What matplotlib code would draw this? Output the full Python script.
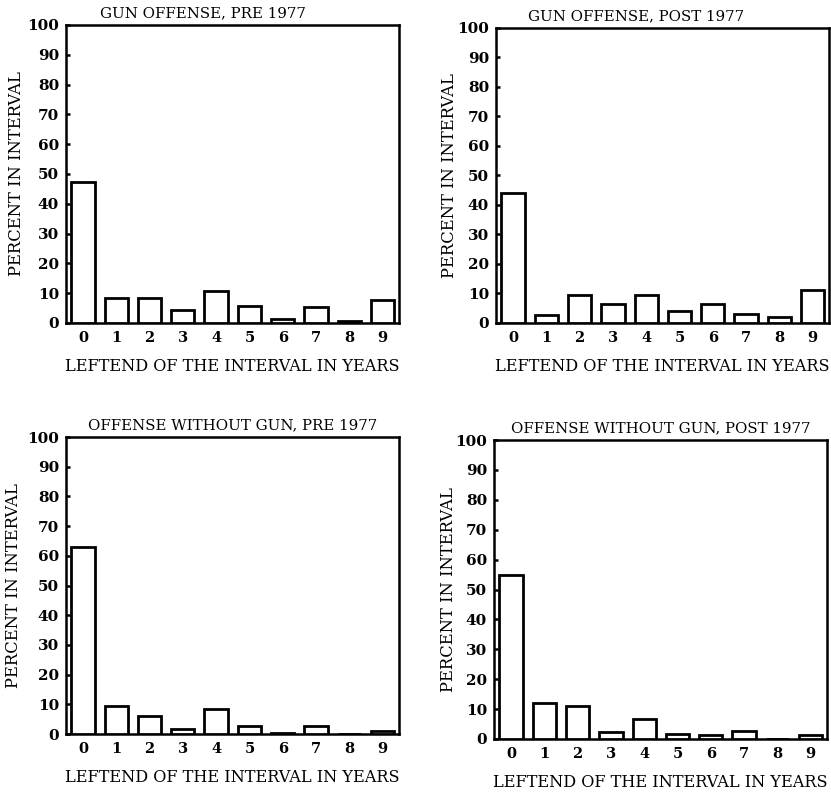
import matplotlib
matplotlib.use("Agg")
import matplotlib.pyplot as plt

# leftend of interval in years
years = [0, 1, 2, 3, 4, 5, 6, 7, 8, 9]

gun_pre = [47.4, 8.5, 8.4, 4.5, 10.7, 5.6, 1.3, 5.4, 0.7, 7.8]
gun_post = [44.1, 2.6, 9.5, 6.6, 9.4, 4.1, 6.6, 3.2, 1.9, 11.3]
nogun_pre = [62.8, 9.4, 6.1, 1.7, 8.4, 2.6, 0.3, 2.6, 0.0, 1.0]
nogun_post = [55.0, 12.2, 11.0, 2.5, 6.6, 1.7, 1.4, 2.8, 0.0, 1.4]

titles = [
    "GUN OFFENSE, PRE 1977",
    "GUN OFFENSE, POST 1977",
    "OFFENSE WITHOUT GUN, PRE 1977",
    "OFFENSE WITHOUT GUN, POST 1977",
]
yticks = [0, 10, 20, 30, 40, 50, 60, 70, 80, 90, 100]

plt.rcParams["font.family"] = ["DejaVu Serif"]

fig = plt.figure(figsize=(8.31, 7.93), dpi=100)

# [left, bottom, width, height], title x, ylabel x (axes fraction)
panels = [
    ([0.0794, 0.5927, 0.4006, 0.3758], 0.41, -0.123, gun_pre),
    ([0.5969, 0.5927, 0.4007, 0.3720], 0.42, -0.114, gun_post),
    ([0.0794, 0.0744, 0.4006, 0.3745], 0.50, -0.132, nogun_pre),
    ([0.5945, 0.0681, 0.4007, 0.3770], 0.50, -0.111, nogun_post),
]

for (rect, tx, lx, vals), title in zip(panels, titles):
    ax = fig.add_axes(rect)
    ax.bar(years, vals, width=0.7, facecolor="white", edgecolor="black",
           linewidth=2.0, zorder=3)
    ax.set_xlim(-0.51, 9.49)
    ax.set_ylim(0, 100)
    for s in ax.spines.values():
        s.set_linewidth(1.8)
    ax.set_yticks(yticks)
    ax.set_yticklabels([str(v) for v in yticks], fontsize=11, fontweight="bold")
    ax.set_xticks(years)
    ax.set_xticklabels([str(v) for v in years], fontsize=10.5, fontweight="bold")
    ax.tick_params(axis="y", direction="in", length=3, width=1.8, pad=5)
    ax.tick_params(axis="x", length=0, pad=6)
    ax.set_xlabel("LEFTEND OF THE INTERVAL IN YEARS", fontsize=11.6, labelpad=9)
    ax.set_ylabel("PERCENT IN INTERVAL", fontsize=11.8)
    ax.yaxis.set_label_coords(lx, 0.5)
    ax.text(tx, 1.04, title, transform=ax.transAxes, ha="center", va="center",
            fontsize=10.8)

fig.savefig("out.png", dpi=100)
